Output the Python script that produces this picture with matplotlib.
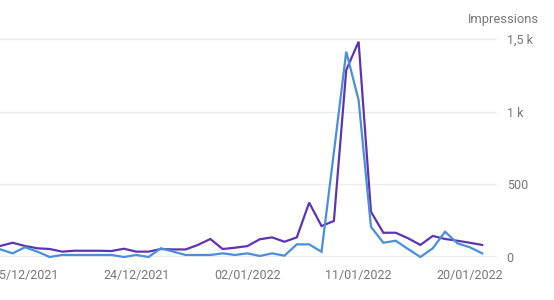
import matplotlib
matplotlib.use("Agg")
import matplotlib.pyplot as plt
import matplotlib.dates as mdates
import pandas as pd

dates = pd.date_range("2021-12-13", "2022-01-21", freq="D")
impressions = [76, 98, 76, 60, 55, 37, 43, 43, 43, 41, 57, 37, 37, 55, 52, 52, 83, 124, 55, 64,
               75, 122, 135, 105, 135, 374, 213, 248, 1287, 1482, 312, 167, 167, 129, 83, 145, 124, 112, 98, 83]
clicks_scaled = [53, 25, 67, 37, 0, 14, 14, 14, 14, 14, 0, 14, 0, 60, 37, 14, 14, 14, 25, 14,
                 25, 7, 25, 9, 87, 87, 36, 720, 1413, 1080, 208, 98, 112, 55, 0, 60, 174, 94, 67, 25]
xtick_dates = ["2021-12-15", "2021-12-24", "2022-01-02", "2022-01-11", "2022-01-20"]
ytick_values = [0, 500, 1000, 1500]
ytick_labels = ["0", "500", "1 k", "1,5 k"]

plt.rcParams['font.family'] = ['Roboto', 'DejaVu Sans']
TXT = '#777777'

fig = plt.figure(figsize=(5.54, 3.00), dpi=100)
ax = fig.add_axes([0.0, 43/300, 497/554, (257-30)/300])

ax.plot(dates, impressions, color='#5e35b1', lw=1.6, clip_on=False, zorder=3, solid_joinstyle='miter')
ax.plot(dates, clicks_scaled, color='#4a8fdc', lw=1.6, clip_on=False, zorder=4, solid_joinstyle='miter')

x0 = mdates.date2num(pd.Timestamp("2021-12-15"))
ax.set_xlim(x0 - 2.02, x0 + 38.2)
ax.set_ylim(0, (257-30)/0.1453)

for s in ax.spines.values():
    s.set_visible(False)
ax.axhline(0, color='#9e9e9e', lw=1.0, zorder=2)
for v in ytick_values[1:]:
    ax.axhline(v, color='#ebebeb', lw=1.0, zorder=1)

ax.yaxis.tick_right()
ax.set_yticks(ytick_values)
ax.set_yticklabels(ytick_labels)
ax.tick_params(axis='y', length=0, pad=7, labelsize=9, labelcolor=TXT)
for lab in ax.get_yticklabels():
    lab.set_horizontalalignment('left')

ax.set_xticks([mdates.date2num(pd.Timestamp(d)) for d in xtick_dates])
ax.xaxis.set_major_formatter(mdates.DateFormatter('%d/%m/%Y'))
ax.tick_params(axis='x', length=0, pad=9, labelsize=9, labelcolor=TXT)

fig.text(539/554, 1 - 20/300, "Impressions", ha='right', va='center', fontsize=9.3, color=TXT)

fig.savefig("out.png", dpi=100, facecolor='white')
